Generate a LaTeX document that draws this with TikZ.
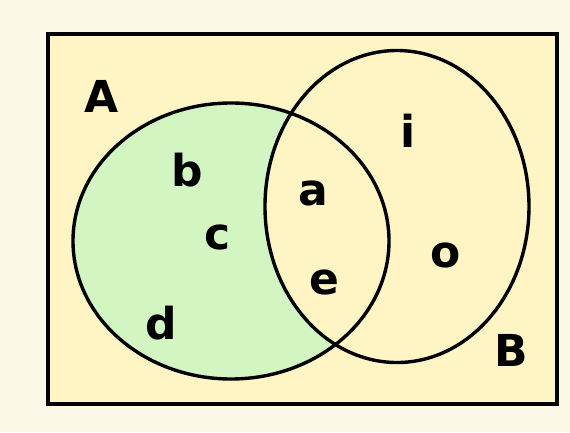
\documentclass[tikz,border=0pt]{standalone}
\usepackage{fontspec}
\setmainfont{DejaVu Sans}
\usepackage{tikz}
\tikzset{
  setline/.style={line width=3.4pt,draw=black},
  lbl/.style={inner sep=0pt,font=\fontsize{44}{44}\selectfont\bfseries},
  frame/.style={line width=3.6pt,draw=black,fill=paleyellow}
}
\definecolor{cream}{RGB}{252,248,232}
\definecolor{paleyellow}{RGB}{255,245,196}
\definecolor{mint}{RGB}{210,245,193}

\begin{document}
\begin{tikzpicture}[x=1pt,y=-1pt]
\fill[cream] (0,0) rectangle (570,432);
\useasboundingbox (0,0) rectangle (570,432);
\draw[frame] (48,34) rectangle (557,404);

% A without B
\fill[mint] (231,241) ellipse [x radius=158,y radius=138];
\begin{scope}
  \clip (397,206.5) ellipse [x radius=132,y radius=156];
  \fill[paleyellow] (231,241) ellipse [x radius=158,y radius=138];
\end{scope}
\draw[setline] (231,241) ellipse [x radius=158,y radius=138];
\draw[setline] (397,206.5) ellipse [x radius=132,y radius=156];

\node[lbl] (setA) at (102,96) {A};
\node[lbl] (setB) at (511,350) {B};
\node[lbl] (b) at (187,170) {b};
\node[lbl] (c) at (218,237) {c};
\node[lbl] (d) at (161,323) {d};
\node[lbl] (a) at (313,193) {a};
\node[lbl] (e) at (324,282) {e};
\node[lbl] (i) at (408,131) {i};
\node[lbl] (o) at (446,255) {o};
\end{tikzpicture}
\end{document}
